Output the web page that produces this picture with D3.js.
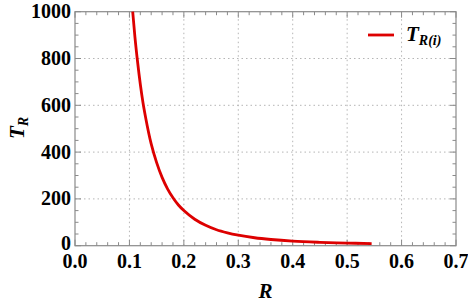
<!DOCTYPE html>
<html>
<head>
<meta charset="utf-8">
<script src="https://cdn.jsdelivr.net/npm/d3@7"></script>
<style>
  body { margin: 0; background: #fff; }
</style>
</head>
<body>
<svg id="chart"></svg>
<script>
// values
const rValues = [0.106, 0.110, 0.115, 0.120, 0.125, 0.130, 0.140, 0.150, 0.160, 0.170, 0.180, 0.190, 0.200, 0.220, 0.240, 0.260, 0.280, 0.300, 0.330, 0.360, 0.400, 0.450, 0.500, 0.545]
const tValues = [1000, 895, 785, 690, 610, 545, 435, 355, 292, 243, 205, 174, 150, 113, 87, 68, 55, 45, 34, 26.5, 19.5, 14.5, 11.3, 8.8]
const xTicks = [0, 0.1, 0.2, 0.3, 0.4, 0.5, 0.6, 0.7]
const yTicks = [0, 200, 400, 600, 800, 1000]

const width = 468, height = 303
const m = { left: 75, right: 12, top: 11.7, bottom: 57.3 }

const svg = d3.select('#chart').attr('width', width).attr('height', height)

const x = d3.scaleLinear().domain([0, 0.7]).range([m.left, width - m.right])
const y = d3.scaleLinear().domain([0, 1000]).range([height - m.bottom, m.top])

const frameColor = '#8a8a8a'

const label = (sel, size, italic) => sel
	.style('font-family', "'Liberation Serif'").style('font-weight', 'bold')
	.style('font-size', size + 'px').style('font-style', italic ? 'italic' : 'normal')

// grid
const g = svg.append('g')
g.selectAll('.gx')
	.data(xTicks.slice(1, -1))
	.enter().append('line')
	.attr('x1', d => x(d)).attr('x2', d => x(d))
	.attr('y1', y(0)).attr('y2', y(1000))
	.attr('stroke', '#b5b5b5').attr('stroke-width', 1).attr('stroke-dasharray', '1.5,3')
g.selectAll('.gy')
	.data(yTicks.slice(1, -1))
	.enter().append('line')
	.attr('x1', x(0)).attr('x2', x(0.7))
	.attr('y1', d => y(d)).attr('y2', d => y(d))
	.attr('stroke', '#b5b5b5').attr('stroke-width', 1).attr('stroke-dasharray', '1.5,3')

// frame ticks (inward, all four sides)
const xMinor = d3.range(0, 0.7001, 0.02)
const yMinor = d3.range(0, 1000.1, 50)
const isMajorX = d => Math.abs(d * 10 - Math.round(d * 10)) < 1e-6
const isMajorY = d => d % 200 === 0

xMinor.forEach(d => {
	const len = isMajorX(d) ? 6 : 3.5
	g.append('line').attr('x1', x(d)).attr('x2', x(d)).attr('y1', y(0)).attr('y2', y(0) - len)
		.attr('stroke', frameColor)
	g.append('line').attr('x1', x(d)).attr('x2', x(d)).attr('y1', y(1000)).attr('y2', y(1000) + len)
		.attr('stroke', frameColor)
})
yMinor.forEach(d => {
	const len = isMajorY(d) ? 6 : 3.5
	g.append('line').attr('x1', x(0)).attr('x2', x(0) + len).attr('y1', y(d)).attr('y2', y(d))
		.attr('stroke', frameColor)
	g.append('line').attr('x1', x(0.7)).attr('x2', x(0.7) - len).attr('y1', y(d)).attr('y2', y(d))
		.attr('stroke', frameColor)
})

g.append('rect')
	.attr('x', x(0)).attr('y', y(1000))
	.attr('width', x(0.7) - x(0)).attr('height', y(0) - y(1000))
	.attr('fill', 'none').attr('stroke', frameColor).attr('stroke-width', 1.2)

// tick labels
svg.selectAll('.xl')
	.data(xTicks)
	.enter().append('text')
	.attr('x', d => x(d)).attr('y', y(0) + 22)
	.attr('text-anchor', 'middle')
	.call(label, 20)
	.text(d => d.toFixed(1))
svg.selectAll('.yl')
	.data(yTicks)
	.enter().append('text')
	.attr('x', x(0) - 4).attr('y', d => d === 0 ? y(d) + 4 : y(d) + 6.5)
	.attr('text-anchor', 'end')
	.call(label, 20)
	.text(d => d)

// axis labels
svg.append('text')
	.attr('x', (x(0) + x(0.7)) / 2).attr('y', 298)
	.attr('text-anchor', 'middle')
	.call(label, 21, true)
	.text('R')

const yl = svg.append('text')
	.attr('transform', 'translate(24,128) rotate(-90)')
	.attr('text-anchor', 'middle')
	.call(label, 21, true)
yl.append('tspan').text('T')
yl.append('tspan').style('font-size', '14px').attr('dy', 4).text('R')

// curve
const pts = rValues.map((r, i) => [r, tValues[i]])
const line = d3.line().x(d => x(d[0])).y(d => y(d[1])).curve(d3.curveMonotoneX)
svg.append('path')
	.datum(pts)
	.attr('d', line)
	.attr('fill', 'none').attr('stroke', '#dd0000').attr('stroke-width', 2.8)

// legend
svg.append('line')
	.attr('x1', 368).attr('x2', 394).attr('y1', 35).attr('y2', 35)
	.attr('stroke', '#dd0000').attr('stroke-width', 2.8)
const lt = svg.append('text')
	.attr('x', 406).attr('y', 41)
	.call(label, 21, true)
lt.append('tspan').text('T')
lt.append('tspan').style('font-size', '14px').attr('dy', 4).text('R(i)')
</script>
</body>
</html>
